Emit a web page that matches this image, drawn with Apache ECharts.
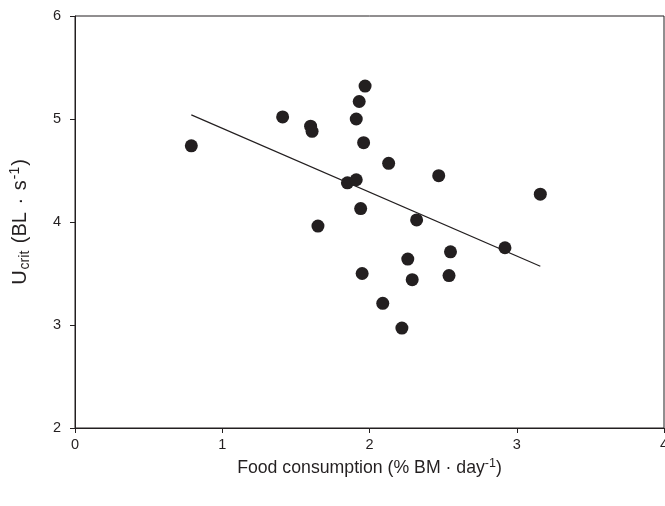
<!DOCTYPE html>
<html>
<head>
<meta charset="utf-8">
<script src="https://cdn.jsdelivr.net/npm/echarts@6/dist/echarts.min.js"></script>
<style>
  html, body { margin: 0; padding: 0; background: #fff; }
  #chart { width: 665px; height: 506px; }
</style>
</head>
<body>
<div id="chart"></div>
<script>
// food consumption (% BM / day) vs Ucrit (BL / s)
const foodX = [0.79, 1.41, 1.60, 1.61, 1.65, 1.85, 1.91, 1.91, 1.93, 1.94, 1.95, 1.96, 1.97,
  2.09, 2.13, 2.22, 2.26, 2.29, 2.32, 2.47, 2.54, 2.55, 2.92, 3.16]
const ucritY = [4.74, 5.02, 4.93, 4.88, 3.96, 4.38, 4.41, 5.00, 5.17, 4.13, 3.50, 4.77, 5.32,
  3.21, 4.57, 2.97, 3.64, 3.44, 4.02, 4.45, 3.48, 3.71, 3.75, 4.27]

// regression line end points
const fitX = [0.79, 3.16]
const fitY = [5.04, 3.57]

const xTicks = [0, 1, 2, 3, 4]
const yTicks = [2, 3, 4, 5, 6]

const font = 'Liberation Sans, Arial, sans-serif'
const ink = '#231f20'

// rich styles for axis titles (superscript / subscript)
const base = { fontFamily: font, color: ink }
const yRich = {
  n: { ...base, fontSize: 20 },
  g: { ...base, fontSize: 20, padding: [0, 1, 0, 1] },
  sub: { ...base, fontSize: 14, padding: [9, 0, 0, 1] },
  sup: { ...base, fontSize: 14, padding: [0, 1, 11, 1] }
}
const xRich = {
  n: { ...base, fontSize: 17.7 },
  sup: { ...base, fontSize: 12.5, padding: [0, 0, 9, 0] }
}

const chart = echarts.init(document.getElementById('chart'))
chart.setOption({
  animation: false,
  grid: {
    left: 75, top: 16, right: 1, bottom: 78,
    containLabel: false,
    outerBoundsMode: 'none',
    show: true, borderColor: ink, borderWidth: 1
  },
  xAxis: {
    type: 'value',
    min: xTicks[0], max: xTicks[xTicks.length - 1], interval: 1,
    name: '{n|Food consumption (% BM · day}{sup|-1}{n|)}',
    nameLocation: 'middle',
    nameGap: 29,
    nameTextStyle: { ...base, rich: xRich },
    axisLine: { lineStyle: { color: ink, width: 1 } },
    axisTick: { inside: false, length: 5, lineStyle: { color: ink } },
    axisLabel: { fontFamily: font, fontSize: 14.5, color: ink, margin: 9, showMaxLabel: true },
    splitLine: { show: false }
  },
  yAxis: {
    type: 'value',
    min: yTicks[0], max: yTicks[yTicks.length - 1], interval: 1,
    name: '{n|U}{sub|crit}{g| }{n|(BL}{g| }{n|·}{g| }{n|s}{sup|-1}{n|)}',
    nameLocation: 'middle',
    nameGap: 42,
    nameTextStyle: { ...base, rich: yRich },
    axisLine: { lineStyle: { color: ink, width: 1 } },
    axisTick: { inside: false, length: 5, lineStyle: { color: ink } },
    axisLabel: { fontFamily: font, fontSize: 14.5, color: ink, margin: 14 },
    splitLine: { show: false }
  },
  series: [
    {
      type: 'line',
      data: fitX.map((x, i) => [x, fitY[i]]),
      showSymbol: false,
      lineStyle: { color: ink, width: 1.2 },
      z: 1
    },
    {
      type: 'scatter',
      data: foodX.map((x, i) => [x, ucritY[i]]),
      symbol: 'circle',
      symbolSize: 13,
      itemStyle: { color: ink, opacity: 1 },
      z: 2
    }
  ]
})
</script>
</body>
</html>
